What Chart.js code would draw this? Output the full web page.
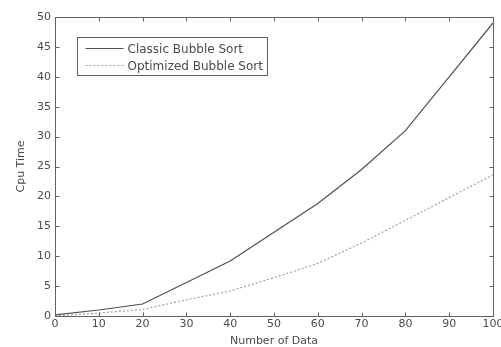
<!DOCTYPE html>
<html>
<head>
<meta charset="utf-8">
<script src="https://cdn.jsdelivr.net/npm/chart.js@4.4.0/dist/chart.umd.min.js"></script>
<style>
  html, body { margin: 0; padding: 0; background: #fff; }
  #wrap { width: 501px; height: 347px; }
</style>
</head>
<body>
<div id="wrap"><canvas id="cpuChart"></canvas></div>
<script>
const sizes = [0, 10, 20, 30, 40, 50, 60, 70, 80, 90, 100]
const classicTimes = [0.2, 1, 2, 5.6, 9.2, 14, 18.8, 24.5, 31, 40, 49]
const optimizedTimes = [0, 0.5, 1.1, 2.7, 4.2, 6.4, 8.8, 12.2, 16, 19.8, 23.6]
const seriesNames = ['Classic Bubble Sort', 'Optimized Bubble Sort']

const toPoints = (vals) => sizes.map((x, i) => ({ x: x, y: vals[i] }))

const textColor = '#4a4a4a'
const fontFamily = '"DejaVu Sans", sans-serif'
const baseFont = { family: fontFamily, size: 11, lineHeight: 1 }

// matlab style box + inward ticks + legend
const matlabBox = {
    id: 'matlabBox',
    afterDraw(chart) {
        const ctx = chart.ctx
        const a = chart.chartArea
        const xs = chart.scales.x
        const ys = chart.scales.y
        const L = Math.round(a.left) + 0.5, R = Math.round(a.right) + 0.5
        const T = Math.round(a.top) + 0.5, B = Math.round(a.bottom) + 0.5
        ctx.save()
        ctx.setLineDash([])
        ctx.strokeStyle = '#606060'
        ctx.lineWidth = 1
        ctx.beginPath()
        ctx.moveTo(L, T); ctx.lineTo(R, T); ctx.lineTo(R, B); ctx.lineTo(L, B); ctx.closePath()
        xs.ticks.forEach(t => {
            const px = Math.round(xs.getPixelForValue(t.value)) + 0.5
            ctx.moveTo(px, B); ctx.lineTo(px, B - 4)
            ctx.moveTo(px, T); ctx.lineTo(px, T + 4)
        })
        ys.ticks.forEach(t => {
            const py = Math.round(ys.getPixelForValue(t.value)) + 0.5
            ctx.moveTo(L, py); ctx.lineTo(L + 4, py)
            ctx.moveTo(R, py); ctx.lineTo(R - 4, py)
        })
        ctx.stroke()

        // legend
        const lx = 77.5, ly = 37.5, lw = 190, lh = 38
        ctx.fillStyle = '#fff'
        ctx.fillRect(lx, ly, lw, lh)
        ctx.strokeStyle = '#606060'
        ctx.strokeRect(lx, ly, lw, lh)
        ctx.font = '12px ' + fontFamily
        ctx.textBaseline = 'middle'
        chart.data.datasets.forEach((ds, i) => {
            const yy = Math.round(ly + 10 + i * 17) + 0.5
            ctx.beginPath()
            ctx.strokeStyle = ds.borderColor
            ctx.setLineDash(ds.borderDash || [])
            ctx.moveTo(lx + 8, yy); ctx.lineTo(lx + 46, yy)
            ctx.stroke()
            ctx.setLineDash([])
            ctx.fillStyle = textColor
            ctx.fillText(seriesNames[i], lx + 50, yy + 1)
        })
        ctx.restore()
    }
}

new Chart(document.getElementById('cpuChart'), {
    type: 'line',
    data: {
        datasets: [{
            label: seriesNames[0],
            data: toPoints(classicTimes),
            borderColor: '#505050',
            borderWidth: 1.2,
            pointRadius: 0,
            tension: 0
        }, {
            label: seriesNames[1],
            data: toPoints(optimizedTimes),
            borderColor: '#a0a0a0',
            borderWidth: 1.2,
            borderDash: [2, 2],
            pointRadius: 0,
            tension: 0
        }]
    },
    options: {
        responsive: true,
        maintainAspectRatio: false,
        animation: false,
        layout: { padding: { top: 17, right: 8, left: 16, bottom: 0 } },
        plugins: { legend: { display: false }, tooltip: { enabled: false } },
        scales: {
            x: {
                type: 'linear', min: 0, max: 100,
                grid: { display: false, drawTicks: false, tickLength: 0 },
                border: { display: false },
                ticks: { stepSize: 10, color: textColor, font: baseFont, padding: 3, maxRotation: 0 },
                title: { display: true, text: 'Number of Data', color: textColor, font: baseFont, padding: { top: 3, bottom: 0 } },
                afterFit: (scale) => { scale.paddingRight = 0; scale.paddingLeft = 0 }
            },
            y: {
                min: 0, max: 50,
                grid: { display: false, drawTicks: false, tickLength: 0 },
                border: { display: false },
                ticks: { stepSize: 5, color: textColor, font: baseFont, padding: 4 },
                title: { display: true, text: 'Cpu Time', color: textColor, font: baseFont, padding: { top: 0, bottom: 6 } },
                afterFit: (scale) => { scale.paddingTop = 0; scale.paddingBottom = 0 }
            }
        }
    },
    plugins: [matlabBox]
})
</script>
</body>
</html>
